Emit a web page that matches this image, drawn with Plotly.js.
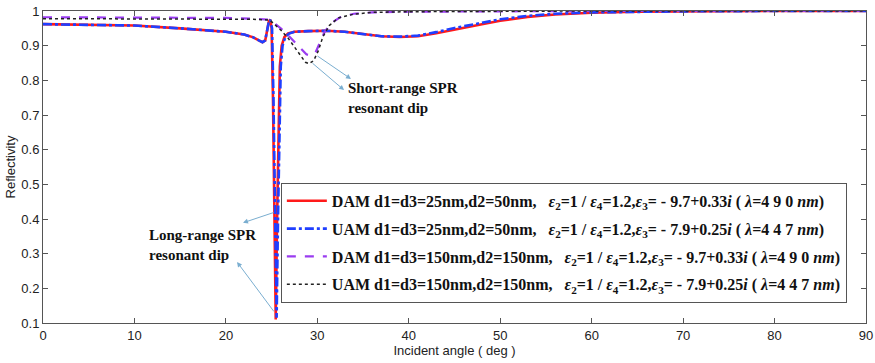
<!DOCTYPE html>
<html>
<head>
<meta charset="utf-8">
<script src="https://cdn.plot.ly/plotly-3.0.1.min.js"></script>
<style>html,body{margin:0;padding:0;background:#fff;}#chart{width:875px;height:363px;}</style>
</head>
<body>
<div id="chart"></div>
<script>
// ---- data ----
const xDam25 = [0,5,10,15,18,20,22,23,23.6,24,24.3,24.5,24.7,24.85,25.0,25.15,25.3,25.45,25.6,25.75,25.9,26.1,26.4,26.8,27.5,29,31,33,35,37,39,41,43,45,48,50,53,56,60,65,70,80,90];
const yDam25 = [0.962,0.961,0.958,0.950,0.944,0.940,0.932,0.924,0.915,0.910,0.915,0.940,0.970,0.975,0.950,0.750,0.400,0.110,0.400,0.700,0.840,0.900,0.925,0.935,0.940,0.942,0.943,0.940,0.933,0.927,0.925,0.927,0.936,0.947,0.962,0.972,0.983,0.990,0.995,0.998,0.999,1.000,1.000];

const xUam25 = [0,5,10,15,18,20,22,23,23.6,24,24.3,24.5,24.7,24.85,25.05,25.2,25.4,25.55,25.7,25.85,26.0,26.2,26.5,26.9,27.5,29,31,33,35,37,39,41,43,45,48,50,53,56,60,65,70,80,90];
const yUam25 = [0.962,0.961,0.958,0.950,0.944,0.940,0.932,0.924,0.915,0.910,0.915,0.940,0.970,0.975,0.950,0.750,0.400,0.115,0.400,0.700,0.840,0.900,0.925,0.935,0.940,0.942,0.943,0.940,0.933,0.927,0.926,0.929,0.939,0.951,0.966,0.976,0.986,0.992,0.996,0.998,0.999,1.000,1.000];

const xDam150 = [0,10,20,23,24,24.8,25.3,26,26.8,27.5,28.2,28.8,29.3,29.8,30.3,30.8,31.5,32.5,34,36,40,50,60,90];
const yDam150 = [0.982,0.982,0.980,0.978,0.977,0.975,0.965,0.950,0.930,0.910,0.890,0.875,0.871,0.880,0.910,0.940,0.965,0.982,0.992,0.996,0.998,1.000,1.000,1.000];

const xUam150 = [0,10,20,23,24,24.8,25.3,26,26.8,27.5,28.2,28.7,29.1,29.6,30.1,30.6,31.3,32.3,34,36,40,50,60,90];
const yUam150 = [0.978,0.978,0.977,0.976,0.975,0.974,0.962,0.945,0.922,0.897,0.870,0.852,0.848,0.857,0.885,0.925,0.958,0.980,0.991,0.996,0.998,1.000,1.000,1.000];

const names = [
  "DAM d1=d3=25nm,d2=50nm,",
  "UAM d1=d3=25nm,d2=50nm,",
  "DAM d1=d3=150nm,d2=150nm,",
  "UAM d1=d3=150nm,d2=150nm,"
];
const epsParts = [
  ["- 9.7+0.33", "490"],
  ["- 7.9+0.25", "447"],
  ["- 9.7+0.33", "490"],
  ["- 7.9+0.25", "447"]
];
const xTicks = [0,10,20,30,40,50,60,70,80,90];
const yTicks = [0.1,0.2,0.3,0.4,0.5,0.6,0.7,0.8,0.9,1];

const NB = "\u00A0";
function label(i){
  const e = epsParts[i];
  return "<b>" + names[i] + NB + NB + NB + "<i>ε</i><sub>2</sub>=1 / <i>ε</i><sub>4</sub>=1.2,<i>ε</i><sub>3</sub>= " + e[0] + "<i>i</i>" + NB + "(" + NB + "<i>λ</i>=" + e[1].split("").join(NB) + NB + "<i>nm</i>)</b>";
}

const traces = [
  {x:xDam25, y:yDam25, line:{color:'#ff1a1a', width:2.6, dash:'solid'}},
  {x:xUam25, y:yUam25, line:{color:'#1f3fff', width:2.6, dash:'dashdot'}},
  {x:xDam150, y:yDam150, line:{color:'#9a3cf0', width:2.2, dash:'dash'}},
  {x:xUam150, y:yUam150, line:{color:'#222222', width:1.5, dash:'dot'}}
].map((t,i)=>Object.assign(t,{type:'scatter', mode:'lines', name:label(i), legendgroup:'g'+i}));

const arrowColor = '#7aaed0';
function arrow(hx,hy,tx,ty){
  return {x:hx,y:hy,ax:tx,ay:ty,xref:'x',yref:'y',axref:'x',ayref:'y',text:'',showarrow:true,
    arrowhead:2,arrowsize:1,arrowwidth:1,arrowcolor:arrowColor};
}
const SERIF = "'Liberation Serif', 'DejaVu Serif', serif";
const SANS = "'Liberation Sans', Arial, sans-serif";
const annFont = {family:SERIF, size:15, color:'#111'};
const axFont = {family:SANS, size:13, color:'#222'};

const layout = {
  width:875, height:363,
  margin:{l:43, r:9, t:11, b:40},
  paper_bgcolor:'#fff', plot_bgcolor:'#fff',
  showlegend:true,
  legend:{x:0.289, xanchor:'left', y:0.449, yanchor:'top', bgcolor:'#fff',
    bordercolor:'#555', borderwidth:1, tracegroupgap:4, itemwidth:40,
    font:{family:SERIF, size:16, color:'#111'}},
  xaxis:{range:[0,90], tickvals:xTicks, ticks:'inside', ticklen:5, tickcolor:'#555',
    showline:true, linecolor:'#555', linewidth:1, mirror:'ticks', showgrid:false, zeroline:false,
    tickfont:axFont,
    title:{text:'Incident angle ( deg )', standoff:4, font:axFont}},
  yaxis:{range:[0.1,1], tickvals:yTicks, ticktext:yTicks.map(v=>v===1?'1':String(v)), ticks:'inside', ticklen:5, tickcolor:'#555',
    showline:true, linecolor:'#555', linewidth:1, mirror:'ticks', showgrid:false, zeroline:false,
    tickfont:axFont,
    title:{text:'Reflectivity', standoff:2, font:axFont}},
  annotations:[
    {x:33.1, y:0.806, xref:'x', yref:'y', xanchor:'left', yanchor:'top', align:'left', showarrow:false,
      text:'<b>Short-range SPR<br>resonant dip</b>', font:annFont},
    {x:11.4, y:0.382, xref:'x', yref:'y', xanchor:'left', yanchor:'top', align:'left', showarrow:false,
      text:'<b>Long-range SPR<br>resonant dip</b>', font:annFont},
    arrow(33.68,0.804,29.86,0.873),
    arrow(32.92,0.772,29.31,0.853),
    arrow(21.87,0.389,25.37,0.420),
    arrow(21.22,0.276,25.37,0.129)
  ]
};

Plotly.newPlot('chart', traces, layout, {displayModeBar:false, staticPlot:true});
</script>
</body>
</html>
